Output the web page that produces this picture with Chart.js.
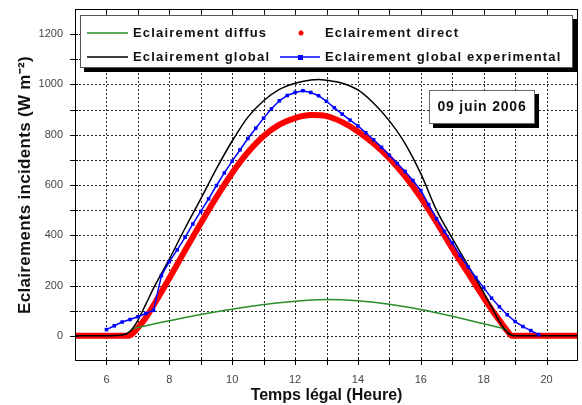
<!DOCTYPE html>
<html>
<head>
<meta charset="utf-8">
<script src="https://cdn.jsdelivr.net/npm/chart.js@4.4.1/dist/chart.umd.min.js"></script>
<style>
  html, body { margin: 0; padding: 0; background: #fff; }
  #wrap { width: 582px; height: 405px; }
</style>
</head>
<body>
<div id="wrap"><canvas id="eclairementChart" width="582" height="405"></canvas></div>
<script>
// Heures (temps légal) et éclairements en W m-2
const diffusHeures = [6.8, 7, 7.5, 8, 8.5, 9, 9.5, 10, 10.5, 11, 11.5, 12, 12.5, 13, 13.5, 14, 14.5, 15, 15.5, 16, 16.5, 17, 17.5, 18, 18.5, 18.75];
const diffus = [28, 33, 47, 60, 73, 85, 96, 106, 116, 125, 132, 138, 143, 145, 144, 140, 134, 126, 116, 105, 92, 78, 63, 48, 33, 24];

const directHeures = [5, 6, 6.5, 6.7, 7, 7.25, 7.5, 8, 8.5, 9, 9.5, 10, 10.5, 11, 11.5, 12, 12.5, 13, 13.5, 14, 14.5, 15, 15.5, 16, 16.5, 17, 17.5, 18, 18.25, 18.5, 18.75, 18.9, 20, 21];
const direct = [0, 0, 0, 0, 32, 72, 122, 229, 340, 448, 552, 648, 730, 795, 840, 866, 878, 874, 850, 813, 765, 707, 635, 550, 452, 348, 250, 152, 105, 62, 20, 0, 0, 0];

const globalHeures = [5, 6, 6.5, 6.75, 7, 7.25, 7.5, 8, 8.5, 9, 9.5, 10, 10.5, 11, 11.5, 12, 12.5, 12.75, 13, 13.5, 14, 14.5, 15, 15.5, 16, 16.5, 17, 17.5, 18, 18.25, 18.5, 18.75, 19, 20, 21];
const global = [0, 0, 3, 18, 62, 125, 190, 305, 428, 545, 665, 775, 870, 935, 980, 1005, 1018, 1020, 1017, 1005, 978, 925, 855, 765, 645, 500, 388, 280, 172, 115, 58, 14, 0, 0, 0];

// mesures toutes les 15 minutes
const experimentalHeures = [6, 6.25, 6.5, 6.75, 7, 7.25, 7.5, 7.75, 8, 8.25, 8.5, 8.75, 9, 9.25, 9.5, 9.75, 10, 10.25, 10.5, 10.75, 11, 11.25, 11.5, 11.75, 12, 12.25, 12.5, 12.75, 13, 13.25, 13.5, 13.75, 14, 14.25, 14.5, 14.75, 15, 15.25, 15.5, 15.75, 16, 16.25, 16.5, 16.75, 17, 17.25, 17.5, 17.75, 18, 18.25, 18.5, 18.75, 19, 19.25, 19.5, 19.75];
const experimental = [25, 40, 55, 65, 76, 89, 102, 240, 295, 342, 392, 445, 495, 545, 598, 648, 695, 740, 785, 826, 866, 903, 935, 956, 968, 975, 968, 955, 933, 907, 882, 858, 835, 808, 780, 750, 718, 686, 654, 618, 578, 522, 466, 415, 370, 320, 275, 232, 192, 150, 116, 84, 57, 37, 21, 5];

const heureTicks = [6, 8, 10, 12, 14, 16, 18, 20];
const eclairementTicks = [0, 200, 400, 600, 800, 1000, 1200];

const police = '"Liberation Sans", Arial, sans-serif';
const vert = '#2a8f2a';
const rouge = '#ff0000';
const bleu = '#0000ff';

function points(heures, valeurs) {
    return heures.map((h, i) => ({ x: h, y: valeurs[i] }));
}

// pas de marge automatique pour les étiquettes des extrémités
function sansMarge(scale) {
    scale.paddingTop = 0;
    scale.paddingBottom = 0;
    scale.paddingLeft = 0;
    scale.paddingRight = 0;
}

// grille pointillée, cadre, graduations, titre vertical, légende et date
const decor = {
    id: 'decor',
    beforeDatasetsDraw(chart) {
        const c = chart.ctx;
        const a = chart.chartArea;
        const xs = chart.scales.x;
        const ys = chart.scales.y;
        c.save();
        c.strokeStyle = 'rgba(0,0,0,0.85)';
        c.lineWidth = 1;
        c.setLineDash([2, 2]);
        c.beginPath();
        for (let h = 6; h <= 20; h++) {
            const x = Math.round(xs.getPixelForValue(h)) + 0.5;
            c.moveTo(x, a.top);
            c.lineTo(x, a.bottom);
        }
        for (let v = 0; v <= 1200; v += 100) {
            const y = Math.round(ys.getPixelForValue(v)) + 0.5;
            c.moveTo(a.left, y);
            c.lineTo(a.right, y);
        }
        c.stroke();
        c.restore();
    },
    afterDatasetsDraw(chart) {
        const c = chart.ctx;
        const a = chart.chartArea;
        const xs = chart.scales.x;
        const ys = chart.scales.y;
        c.save();
        c.strokeStyle = '#000';
        c.lineWidth = 1;
        c.strokeRect(a.left + 0.5, a.top + 0.5, a.right - a.left - 1, a.bottom - a.top - 1);
        c.beginPath();
        for (let h = 6; h <= 20; h++) {
            const x = Math.round(xs.getPixelForValue(h)) + 0.5;
            c.moveTo(x, a.bottom - 3);
            c.lineTo(x, a.bottom + 4);
            c.moveTo(x, a.top);
            c.lineTo(x, a.top + 4);
        }
        for (let v = 0; v <= 1200; v += 100) {
            const y = Math.round(ys.getPixelForValue(v)) + 0.5;
            c.moveTo(a.left - 5, y);
            c.lineTo(a.left + 3, y);
        }
        c.stroke();

        // titre de l'axe des ordonnées
        c.translate(25, (a.top + a.bottom) / 2);
        c.rotate(-Math.PI / 2);
        c.font = 'bold 17px ' + police;
        c.letterSpacing = '0.3px';
        c.textAlign = 'center';
        c.textBaseline = 'middle';
        c.fillStyle = '#111';
        c.fillText('Eclairements incidents (W m⁻²)', 0, 0);
        c.restore();
    },
    afterDraw(chart) {
        const c = chart.ctx;
        c.save();

        // boîte de légende avec ombre
        c.fillStyle = '#000';
        c.fillRect(84, 19, 493, 53);
        c.fillStyle = '#fff';
        c.fillRect(80, 15, 493, 53);
        c.strokeStyle = '#555';
        c.lineWidth = 1;
        c.strokeRect(80.5, 15.5, 492, 52);

        c.font = 'bold 13px ' + police;
        c.letterSpacing = '1.2px';
        c.textBaseline = 'middle';
        c.fillStyle = '#111';

        const y1 = 33, y2 = 57;
        c.lineWidth = 1.5;
        c.strokeStyle = vert;
        c.beginPath(); c.moveTo(87, y1); c.lineTo(128, y1); c.stroke();
        c.fillText('Eclairement diffus', 133, y1);

        c.fillStyle = rouge;
        c.beginPath(); c.arc(301, y1, 2.5, 0, Math.PI * 2); c.fill();
        c.fillStyle = '#111';
        c.fillText('Eclairement direct', 325, y1);

        c.strokeStyle = '#000';
        c.beginPath(); c.moveTo(87, y2); c.lineTo(128, y2); c.stroke();
        c.fillText('Eclairement global', 133, y2);

        c.strokeStyle = bleu;
        c.beginPath(); c.moveTo(280, y2); c.lineTo(320, y2); c.stroke();
        c.fillStyle = bleu;
        c.fillRect(298, y2 - 2, 5, 5);
        c.fillStyle = '#111';
        c.fillText('Eclairement global experimental', 325, y2);

        // date de la mesure
        c.fillStyle = '#000';
        c.fillRect(433, 94, 106, 34);
        c.fillStyle = '#fff';
        c.fillRect(429, 90, 106, 34);
        c.strokeStyle = '#666';
        c.lineWidth = 1;
        c.strokeRect(429.5, 90.5, 105, 33);
        c.font = 'bold 14px ' + police;
        c.letterSpacing = '0.8px';
        c.textAlign = 'center';
        c.fillStyle = '#111';
        c.fillText('09 juin 2006', 482, 107);

        c.restore();
    }
};

const ctx = document.getElementById('eclairementChart').getContext('2d');

const eclairementChart = new Chart(ctx, {
    type: 'line',
    data: {
        datasets: [{
            label: 'Eclairement global experimental',
            data: points(experimentalHeures, experimental),
            borderColor: bleu,
            backgroundColor: bleu,
            borderWidth: 1.5,
            pointStyle: 'rect',
            pointRadius: 2.5,
            pointBorderWidth: 0,
            tension: 0,
            order: 1
        }, {
            label: 'Eclairement global',
            data: points(globalHeures, global),
            borderColor: '#000',
            borderWidth: 1.5,
            pointRadius: 0,
            cubicInterpolationMode: 'monotone',
            order: 2
        }, {
            label: 'Eclairement diffus',
            data: points(diffusHeures, diffus),
            borderColor: vert,
            borderWidth: 1.5,
            pointRadius: 0,
            cubicInterpolationMode: 'monotone',
            order: 3
        }, {
            label: 'Eclairement direct',
            data: points(directHeures, direct),
            borderColor: rouge,
            backgroundColor: rouge,
            borderWidth: 6,
            pointRadius: 0,
            cubicInterpolationMode: 'monotone',
            order: 4
        }]
    },
    options: {
        responsive: false,
        devicePixelRatio: 1,
        animation: false,
        layout: { padding: { top: 9, right: 1, left: 0, bottom: 0 } },
        scales: {
            x: {
                type: 'linear',
                min: 5,
                max: 21,
                afterFit: (scale) => { scale.height = 44; sansMarge(scale); },
                ticks: {
                    stepSize: 1,
                    autoSkip: false,
                    maxRotation: 0,
                    padding: 12,
                    color: '#444',
                    font: { family: police, size: 11 },
                    callback: (v) => heureTicks.includes(v) ? v : ''
                },
                grid: { display: false, drawTicks: false },
                border: { display: false },
                title: {
                    display: true,
                    text: 'Temps légal (Heure)',
                    color: '#111',
                    font: { family: police, size: 16, weight: 'bold' },
                    padding: { top: 0, bottom: 0 }
                }
            },
            y: {
                min: -100,
                max: 1300,
                afterFit: (scale) => { scale.width = 75; sansMarge(scale); },
                ticks: {
                    stepSize: 100,
                    padding: 12,
                    color: '#444',
                    font: { family: police, size: 11 },
                    callback: (v) => eclairementTicks.includes(v) ? v : ''
                },
                grid: { display: false, drawTicks: false },
                border: { display: false },
                title: { display: false }
            }
        },
        plugins: {
            legend: { display: false },
            tooltip: { enabled: false }
        }
    },
    plugins: [decor]
});
</script>
</body>
</html>
